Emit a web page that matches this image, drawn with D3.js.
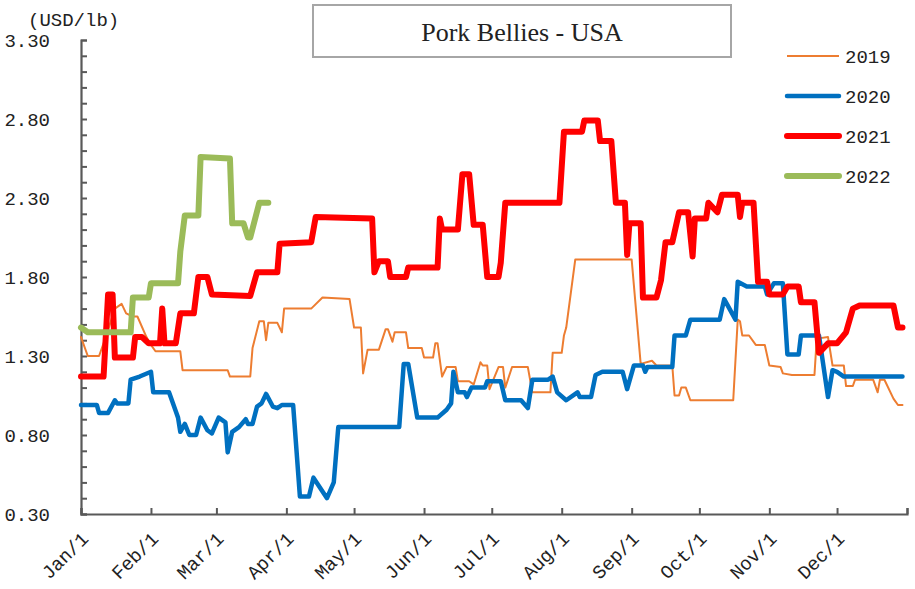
<!DOCTYPE html>
<html>
<head>
<meta charset="utf-8">
<script src="https://cdn.jsdelivr.net/npm/d3@7"></script>
<style>
  body { margin: 0; background: #fff; }
  svg text { font-family: "Liberation Mono", monospace; fill: #222; }
</style>
</head>
<body>
<div id="chart"></div>
<script>
// price points, [date, USD/lb]
var years = ["2019", "2020", "2021", "2022"];

var pts2019 = [["1/1",1.42],["1/4",1.30],["1/9",1.30],["1/12",1.42],["1/16",1.60],["1/19",1.63],["1/21",1.57],
  ["1/24",1.55],["1/26",1.55],["1/30",1.42],["2/1",1.37],["2/3",1.33],["2/14",1.33],["2/15",1.21],["3/6",1.21],
  ["3/7",1.17],["3/16",1.17],["3/17",1.35],["3/20",1.52],["3/22",1.52],["3/23",1.40],["3/24",1.51],["3/28",1.51],
  ["3/30",1.45],["3/31",1.60],["4/12",1.60],["4/17",1.67],["4/29",1.66],["5/1",1.48],["5/4",1.48],["5/5",1.19],
  ["5/7",1.34],["5/12",1.34],["5/15",1.47],["5/16",1.47],["5/18",1.39],["5/19",1.45],["5/24",1.45],["5/25",1.35],
  ["5/31",1.35],["6/1",1.29],["6/5",1.29],["6/6",1.38],["6/7",1.38],["6/9",1.17],["6/11",1.23],["6/15",1.23],
  ["6/16",1.14],["6/21",1.14],["6/23",1.12],["6/26",1.26],["6/27",1.24],["6/29",1.24],["6/30",1.09],["7/4",1.23],
  ["7/6",1.23],["7/7",1.10],["7/10",1.23],["7/17",1.23],["7/19",1.07],["7/27",1.07],["7/28",1.32],["8/1",1.32],
  ["8/2",1.43],["8/3",1.48],["8/7",1.91],["9/1",1.91],["9/5",1.25],["9/10",1.27],["9/12",1.24],["9/19",1.24],
  ["9/20",1.05],["9/22",1.05],["9/23",1.10],["9/25",1.10],["9/27",1.02],["10/16",1.02],["10/18",1.53],["10/19",1.52],
  ["10/20",1.43],["10/23",1.43],["10/26",1.37],["10/30",1.37],["11/1",1.24],["11/6",1.23],["11/7",1.19],["11/11",1.18],
  ["11/21",1.18],["11/22",1.41],["11/27",1.42],["11/29",1.24],["12/4",1.24],["12/5",1.11],["12/8",1.11],["12/9",1.15],
  ["12/17",1.15],["12/19",1.07],["12/20",1.15],["12/22",1.15],["12/26",1.03],["12/28",0.99],["12/30",0.99]];

var pts2020 = [["1/1",0.99],["1/8",0.99],["1/9",0.94],["1/13",0.94],["1/16",1.02],["1/17",1.00],["1/22",1.00],
  ["1/23",1.15],["1/27",1.17],["2/1",1.20],["2/2",1.07],["2/9",1.07],["2/12",0.95],["2/13",0.91],["2/14",0.82],
  ["2/16",0.87],["2/18",0.80],["2/21",0.80],["2/23",0.91],["2/26",0.83],["2/28",0.81],["3/2",0.91],["3/5",0.88],
  ["3/6",0.69],["3/8",0.82],["3/11",0.85],["3/14",0.90],["3/15",0.87],["3/17",0.87],["3/19",0.98],["3/21",1.00],
  ["3/23",1.06],["3/26",0.98],["3/28",0.97],["3/30",0.99],["4/4",0.99],["4/7",0.41],["4/11",0.41],["4/13",0.53],
  ["4/19",0.40],["4/22",0.50],["4/24",0.85],["5/21",0.85],["5/23",1.25],["5/25",1.25],["5/29",0.91],["6/7",0.91],
  ["6/11",0.96],["6/13",1.00],["6/14",1.20],["6/16",1.07],["6/19",1.07],["6/20",1.04],["6/22",1.10],["6/28",1.10],
  ["6/29",1.14],["7/5",1.14],["7/7",1.02],["7/14",1.02],["7/17",0.97],["7/19",1.15],["7/26",1.15],["7/28",1.17],
  ["7/30",1.07],["8/3",1.02],["8/8",1.07],["8/9",1.04],["8/14",1.04],["8/16",1.18],["8/19",1.20],["8/28",1.20],
  ["8/30",1.09],["9/2",1.24],["9/6",1.24],["9/7",1.20],["9/8",1.23],["9/19",1.23],["9/20",1.43],["9/25",1.43],
  ["9/27",1.53],["10/10",1.53],["10/12",1.66],["10/17",1.53],["10/18",1.77],["10/22",1.74],["10/30",1.74],
  ["10/31",1.69],["11/3",1.76],["11/7",1.76],["11/9",1.31],["11/14",1.31],["11/15",1.43],["11/23",1.43],
  ["11/27",1.04],["11/29",1.21],["12/1",1.20],["12/4",1.17],["12/30",1.17]];

var pts2021 = [["1/1",1.17],["1/11",1.17],["1/13",1.69],["1/15",1.69],["1/16",1.29],["1/24",1.29],["1/25",1.42],
  ["1/28",1.42],["1/31",1.38],["2/5",1.38],["2/6",1.60],["2/7",1.38],["2/12",1.38],["2/14",1.57],["2/20",1.57],
  ["2/22",1.80],["2/26",1.80],["2/28",1.69],["3/16",1.68],["3/19",1.83],["3/28",1.83],["3/29",2.01],["4/12",2.02],
  ["4/14",2.18],["5/9",2.17],["5/10",1.83],["5/12",1.90],["5/16",1.90],["5/17",1.80],["5/24",1.80],["5/25",1.86],
  ["6/7",1.86],["6/8",2.17],["6/9",2.10],["6/16",2.10],["6/18",2.45],["6/21",2.45],["6/23",2.13],["6/27",2.13],
  ["6/29",1.80],["7/4",1.80],["7/5",1.89],["7/7",2.27],["7/31",2.27],["8/2",2.72],["8/10",2.72],["8/11",2.79],
  ["8/17",2.79],["8/18",2.66],["8/23",2.66],["8/25",2.27],["8/29",2.27],["8/30",1.94],["8/31",2.14],["9/5",2.14],
  ["9/6",1.67],["9/12",1.67],["9/14",1.78],["9/16",2.02],["9/19",2.02],["9/22",2.21],["9/26",2.21],["9/28",1.93],
  ["9/29",2.17],["10/4",2.17],["10/5",2.27],["10/9",2.21],["10/11",2.32],["10/18",2.32],["10/19",2.18],["10/20",2.27],
  ["10/25",2.27],["10/27",1.77],["10/31",1.77],["11/1",1.69],["11/7",1.69],["11/9",1.74],["11/14",1.74],
  ["11/15",1.64],["11/21",1.64],["11/23",1.32],["11/27",1.38],["12/1",1.38],["12/5",1.45],["12/8",1.60],
  ["12/11",1.62],["12/26",1.62],["12/28",1.48],["12/30",1.48]];

var pts2022 = [["1/1",1.48],["1/4",1.45],["1/23",1.45],["1/24",1.67],["1/31",1.67],["2/1",1.76],["2/13",1.76],
  ["2/14",1.96],["2/16",2.19],["2/22",2.19],["2/23",2.56],["3/7",2.55],["3/8",2.14],["3/13",2.14],["3/15",2.05],
  ["3/16",2.05],["3/20",2.27],["3/24",2.27]];

var yTicks = d3.range(0, 31).map(function(i) { return +(0.3 + i * 0.1).toFixed(1); });
var monthTicks = d3.range(0, 13).map(function(m) { return new Date(2020, m, 1); });

var colors = ["#ED7D31", "#0070C0", "#FF0000", "#9BBB59"];
var widths = [2, 4.5, 6, 6];

var width = 915, height = 589;
var mLeft = 81, mRight = 907, mTop = 40, mBottom = 514;

var svg = d3.select("#chart").append("svg")
  .attr("width", width)
  .attr("height", height);

var x = d3.scaleTime()
  .domain([new Date(2020, 0, 1), new Date(2021, 0, 1)])
  .range([mLeft, mRight]);
var y = d3.scaleLinear()
  .domain([0.3, 3.3])
  .range([mBottom, mTop]);

function parse(s) {
  var p = s.split("/");
  return new Date(2020, +p[0] - 1, +p[1]);
}

// axes
var yAxis = svg.append("g")
  .attr("transform", "translate(" + mLeft + ",0)")
  .call(d3.axisLeft(y).tickValues(yTicks).tickSize(-6).tickPadding(31)
    .tickFormat(function(d, i) { return i % 5 === 0 ? d.toFixed(2) : ""; }));
yAxis.selectAll("text").attr("font-size", 19).attr("font-family", "Liberation Mono");

var xAxis = svg.append("g")
  .attr("transform", "translate(0," + mBottom + ")")
  .call(d3.axisBottom(x).tickValues(monthTicks).tickSize(-6)
    .tickFormat(function(d, i) { return i < 12 ? d3.timeFormat("%b")(d) + "/1" : ""; }));
xAxis.selectAll("text")
  .attr("font-size", 19)
  .attr("font-family", "Liberation Mono")
  .attr("text-anchor", "end")
  .attr("dy", 0)
  .attr("y", 0)
  .attr("transform", "translate(8,26) rotate(-45)");

svg.selectAll(".domain, .tick line").attr("stroke", "#595959").attr("stroke-width", 2);
svg.selectAll(".domain").attr("stroke-width", 2.2);

svg.append("text")
  .attr("x", 28).attr("y", 26)
  .attr("font-size", 19)
  .text("(USD/lb)");

// lines
var line = d3.line()
  .x(function(d) { return x(parse(d[0])); })
  .y(function(d) { return y(d[1]); });

var series = [pts2019, pts2020, pts2021, pts2022];
series.forEach(function(pts, i) {
  svg.append("path")
    .datum(pts)
    .attr("fill", "none")
    .attr("stroke", colors[i])
    .attr("stroke-width", widths[i])
    .attr("stroke-linejoin", "round")
    .attr("stroke-linecap", "round")
    .attr("d", line);
});

// title box
svg.append("rect")
  .attr("x", 313).attr("y", 5)
  .attr("width", 418).attr("height", 52)
  .attr("fill", "#fff")
  .attr("stroke", "#A6A6A6")
  .attr("stroke-width", 2);
svg.append("text")
  .attr("x", 522).attr("y", 41)
  .attr("text-anchor", "middle")
  .attr("font-size", 26)
  .style("font-family", "'Liberation Serif', serif")
  .text("Pork Bellies - USA");

// legend
var legend = svg.selectAll(".leg")
  .data(years)
  .enter().append("g")
  .attr("class", "leg")
  .attr("transform", function(d, i) { return "translate(787," + (56 + i * 40) + ")"; });
legend.append("line")
  .attr("x1", 0).attr("x2", 52)
  .attr("stroke", function(d, i) { return colors[i]; })
  .attr("stroke-width", function(d, i) { return widths[i]; })
  .attr("stroke-linecap", function(d, i) { return i ? "round" : "butt"; });
legend.append("text")
  .attr("x", 58).attr("dy", "0.35em")
  .attr("font-size", 19)
  .text(function(d) { return d; });
</script>
</body>
</html>
